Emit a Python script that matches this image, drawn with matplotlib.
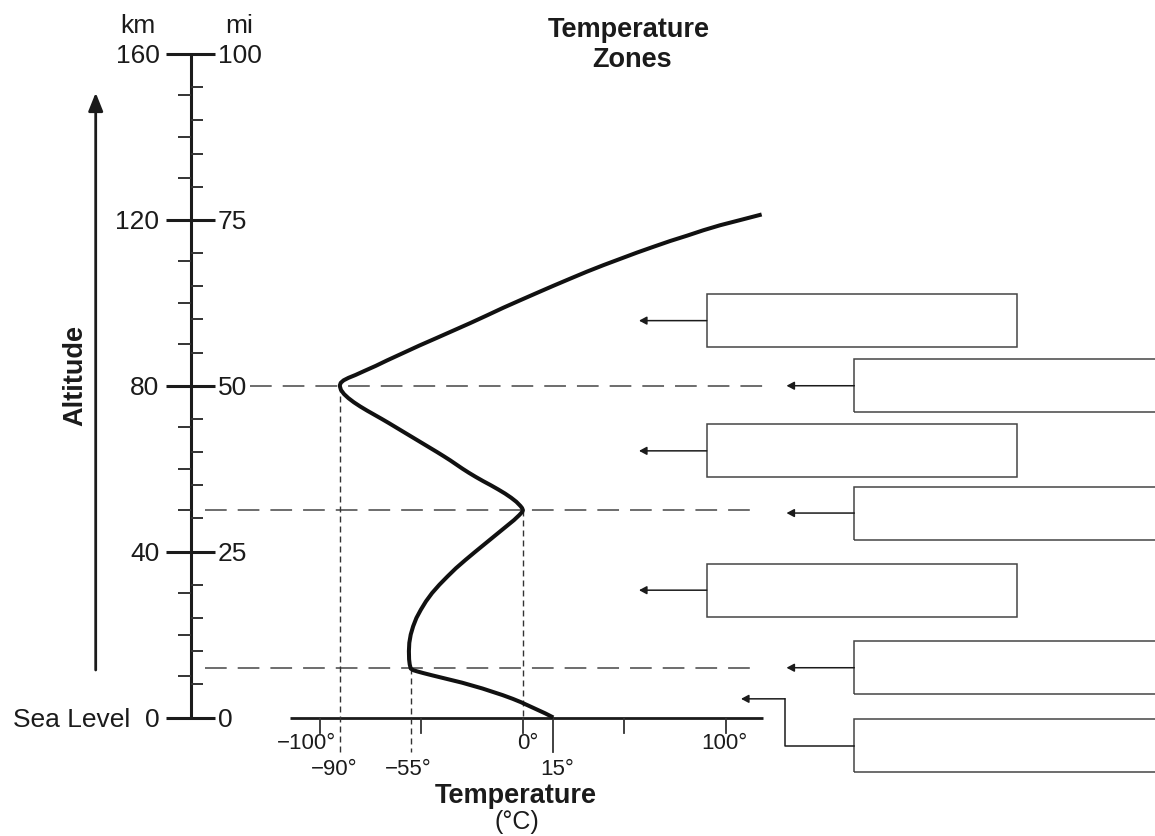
import matplotlib
matplotlib.use("Agg")
import matplotlib.pyplot as plt
from matplotlib.patches import Rectangle

plt.rcParams['font.family'] = ['Liberation Sans', 'DejaVu Sans']

# ---------------- data ----------------
# temperature profile (temperature in deg C, altitude in km)
curve_temp = [15, 11, 7, 3, -1, -5, -10, -15, -20, -25, -30, -35, -40, -45, -49,
              -52, -54, -55.3,
              -55.8, -56.1, -56.2, -56, -55.3, -54.1, -52.5, -50.3, -47.8, -44.8,
              -41.2, -37.2, -33, -28.3, -23.4, -18.4, -13.4, -8.4, -4.4, -1.8,
              -0.3, 0,
              -0.4, -1.2, -3.2, -5.8, -8.8, -12.2, -15.8, -19.6, -23.2, -26.6,
              -29.8, -32.8, -35.8, -39, -42.3, -45.7, -49.1, -52.5, -55.9, -59.3,
              -62.7, -66.1, -69.6, -73.2, -76.8, -80.2, -83.3, -86, -88.2, -89.7,
              -90.3,
              -89.8, -88.4, -86, -82.5, -78, -72.5, -67, -59, -51, -42.6, -34.3,
              -26, -18, -9.7, -1.4, 7, 15, 23.2, 31.5, 39.8, 48, 56.2, 64.3, 72.6,
              81, 89, 97.2, 107.5, 117.7]
curve_alt = [0, 1.0, 1.9, 2.8, 3.7, 4.5, 5.4, 6.2, 7.0, 7.7, 8.4, 9.0, 9.6, 10.2,
             10.7, 11.1, 11.4, 11.8,
             12.8, 14, 16, 18, 20, 22, 24, 26, 28, 30,
             32, 34, 36, 38, 40, 42, 44, 46, 47.6, 48.8,
             49.6, 50,
             50.5, 51, 52, 53, 54, 55, 56, 57, 58, 59,
             60, 61, 62, 63, 64, 65, 66, 67, 68, 69,
             70, 71, 72, 73, 74, 75, 76, 77, 78, 79,
             80,
             80.7, 81.3, 81.9, 82.6, 83.6, 84.8, 86.1, 87.9, 89.7, 91.5, 93.3,
             95.1, 96.9, 98.8, 100.6, 102.4, 104.1, 105.8, 107.5, 109.1, 110.6,
             112.1, 113.5, 114.9, 116.2, 117.5, 118.7, 120, 121.3]

km_major = [0, 40, 80, 120, 160]
km_major_labels = ["0", "40", "80", "120", "160"]
km_minor = [10, 20, 30, 50, 60, 70, 90, 100, 110, 130, 140, 150]
mi_major = [0, 25, 50, 75, 100]
mi_major_labels = ["0", "25", "50", "75", "100"]
mi_minor = [5, 10, 15, 20, 30, 35, 40, 45, 55, 60, 65, 70, 80, 85, 90, 95]
KM_PER_MI = 1.6

temp_ticks = [-100, -50, 0, 50, 100]
temp_major_labels = {-100: "\u2212100\u00b0", 0: "0\u00b0", 100: "100\u00b0"}

# layer boundaries: altitude (km) and temperature (deg C) at each boundary
boundary_alt = [80, 50, 12]
boundary_temp = [-90, 0, -55]
surface_temp = 15
marked_temps = [-90, -55, 15]
marked_labels = ["\u221290\u00b0", "\u221255\u00b0", "15\u00b0"]

# altitudes (km) that the blank zone boxes point at, top to bottom
zone_alt = [95.7, 80, 64.3, 49.3, 30.7, 12, 4.5]

# ---------------- layout helpers (pixel -> data) ----------------
X_ZERO, PX_DEG = 522.9, 2.0285
Y_ZERO, PX_KM = 717.5, 4.147
W, H = 1155, 836


def px(x):
    return (x - X_ZERO) / PX_DEG


def py(y):
    return (Y_ZERO - y) / PX_KM


def dy(p):
    return p / PX_KM


fig = plt.figure(figsize=(W / 100, H / 100), dpi=100)
ax = fig.add_axes([0, 0, 1, 1])
ax.set_xlim(px(0), px(W))
ax.set_ylim(py(H), py(0))
ax.axis("off")

INK = "#1b1b1b"
GREY = "#454545"

# ---------------- altitude scale ----------------
AX_X = px(190.7)
ax.plot([AX_X, AX_X], [0, 160], color=INK, lw=2.2, solid_capstyle="butt")
for k in km_major:
    ax.plot([px(166), px(215)], [k, k], color=INK, lw=2.2, solid_capstyle="butt")
for k in km_minor:
    ax.plot([px(178), AX_X], [k, k], color="#333333", lw=1.4, solid_capstyle="butt")
for m in mi_minor:
    ax.plot([AX_X, px(203)], [m * KM_PER_MI] * 2, color="#333333", lw=1.4,
            solid_capstyle="butt")
FS_L = 19
for k, lab in zip(km_major, km_major_labels):
    ax.text(px(159.5), k - dy(9.3), lab, ha="right", va="baseline",
            fontsize=FS_L, color=INK)
for m, lab in zip(mi_major, mi_major_labels):
    ax.text(px(218), m * KM_PER_MI - dy(9.3), lab, ha="left", va="baseline",
            fontsize=FS_L, color=INK)
ax.text(px(130), -dy(9.3), "Sea Level", ha="right", va="baseline",
        fontsize=FS_L, color=INK)
ax.text(px(138), py(32.7), "km", ha="center", va="baseline", fontsize=FS_L, color=INK)
ax.text(px(239), py(32.7), "mi", ha="center", va="baseline", fontsize=FS_L, color=INK)

# altitude arrow + label
ax.annotate("", xy=(px(95.7), py(92.7)), xytext=(px(95.7), py(670)),
            arrowprops=dict(arrowstyle="-|>,head_length=0.55,head_width=0.22",
                            lw=2.0, color=INK, mutation_scale=20,
                            shrinkA=0, shrinkB=0))
ax.text(px(75), py(375.5), "Altitude", rotation=90, ha="center", va="center",
        fontsize=19.5, fontweight="bold", color=INK)

# ---------------- temperature axis ----------------
ax.plot([px(290), px(762.7)], [0, 0], color=INK, lw=2.0, solid_capstyle="butt")
for t in temp_ticks:
    ax.plot([t, t], [0, py(732.5)], color="#333333", lw=1.3)
ax.plot([surface_temp, surface_temp], [0, py(751.7)], color="#333333", lw=1.3)

label_dx = {-100: -14, 0: 5.4, 100: -1.7}
for t, lab in temp_major_labels.items():
    ax.text(t + label_dx[t] / PX_DEG, py(749.3), lab, ha="center", va="baseline",
            fontsize=16, color=INK)
marked_dx = [-6, -3, 4]
for t, lab, d in zip(marked_temps, marked_labels, marked_dx):
    ax.text(t + d / PX_DEG, py(775), lab, ha="center", va="baseline",
            fontsize=16, color=INK)

ax.text(px(516), py(803), "Temperature", ha="center", va="baseline",
        fontsize=19.5, fontweight="bold", color=INK)
ax.text(px(517), py(829), "(\u00b0C)", ha="center", va="baseline",
        fontsize=18, color=INK)
ax.text(px(629), py(37.3), "Temperature", ha="center", va="baseline",
        fontsize=19.5, fontweight="bold", color=INK)
ax.text(px(632), py(66.7), "Zones", ha="center", va="baseline",
        fontsize=19.5, fontweight="bold", color=INK)

# ---------------- boundary dashed lines ----------------
h_start = [px(250), px(205), px(205)]
h_end = [px(763), px(755), px(755)]
for a, x0, x1 in zip(boundary_alt, h_start, h_end):
    ax.plot([x0, x1], [a, a], color=GREY, lw=1.1, dashes=(14.2, 7.2))
v_bottom = [py(751.7), 0, py(751.7)]
for t, a, b in zip(boundary_temp, boundary_alt, v_bottom):
    ax.plot([t, t], [a, b], color="#333333", lw=1.0, dashes=(4.3, 2.9))

# ---------------- temperature curve ----------------
ax.plot(curve_temp, curve_alt, color="#111111", lw=2.9,
        solid_joinstyle="round", solid_capstyle="butt", zorder=5)

# ---------------- zone boxes and arrows ----------------
BOX_H = dy(53)
left_box = (px(706.7), px(1016.7))
right_box = (px(854.3), px(1200))
arrow_style = dict(arrowstyle="-|>,head_length=0.45,head_width=0.24", lw=1.1,
                   color=INK, mutation_scale=10, shrinkA=0, shrinkB=0)
for i, a in enumerate(zone_alt[:6]):
    if i % 2 == 0:
        x0, x1 = left_box
        tip = px(639)
    else:
        x0, x1 = right_box
        tip = px(786.5)
    ax.add_patch(Rectangle((x0, a - BOX_H / 2), x1 - x0, BOX_H, fill=False,
                           edgecolor=GREY, lw=1.1))
    ax.annotate("", xy=(tip, a), xytext=(x0, a), arrowprops=arrow_style)

# troposphere box with elbow arrow
box7_mid = py(745.8)
x0, x1 = right_box
ax.add_patch(Rectangle((x0, box7_mid - BOX_H / 2), x1 - x0, BOX_H, fill=False,
                       edgecolor=GREY, lw=1.1))
ax.plot([x0, px(785), px(785)], [box7_mid, box7_mid, zone_alt[6]],
        color=INK, lw=1.1)
ax.annotate("", xy=(px(741), zone_alt[6]), xytext=(px(785), zone_alt[6]),
            arrowprops=arrow_style)

fig.savefig("out.png", dpi=100, facecolor="white")
